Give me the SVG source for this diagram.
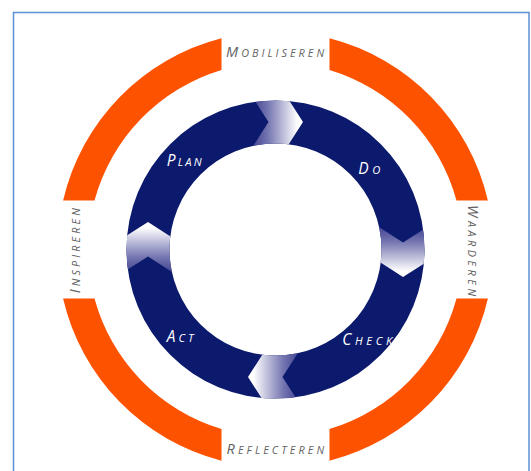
<svg xmlns="http://www.w3.org/2000/svg" width="531" height="471" viewBox="0 0 531 471">
  <style>
    .orange { fill: #fd5200; }
    .ring { fill: #0c1a6d; fill-rule: evenodd; }
    .band { fill: url(#fade); }
    .outer-label { font-family: "Open Sans", Lato, "DejaVu Sans", sans-serif; font-style: italic; font-size: 14.5px; fill: #626262; text-anchor: middle; }
    .inner-label { font-family: "Open Sans", Lato, "DejaVu Sans", sans-serif; font-style: italic; font-size: 15.5px; fill: #ffffff; }
    .sc-o { font-size: 10.8px; }
    .sc-i { font-size: 11.2px; }
  </style>
  <defs>
    <linearGradient id="fade" gradientUnits="userSpaceOnUse" x1="-21" y1="0" x2="22" y2="0">
      <stop offset="0" stop-color="#4a4b95"/>
      <stop offset="0.3" stop-color="#7374b0"/>
      <stop offset="1" stop-color="#ffffff"/>
    </linearGradient>
    <clipPath id="ringclip">
      <path clip-rule="evenodd" d="M149,0 A149,149 0 1,0 -149,0 A149,149 0 1,0 149,0 Z M106,0 A106,106 0 1,0 -106,0 A106,106 0 1,0 106,0 Z"/>
    </clipPath>
  </defs>

  <rect x="13.5" y="12.5" width="515.5" height="470" fill="none" stroke="#5d8fd6" stroke-width="1.5"/>

  <g id="outer-ring">
    <path class="orange" d="M221.5,38.3 A218,218 0 0,0 63.1,200.5 L94.5,200.5 A187.5,187.5 0 0,1 221.5,69.9 Z"/>
    <path class="orange" d="M329.5,38.3 A218,218 0 0,1 487.9,200.5 L456.5,200.5 A187.5,187.5 0 0,0 329.5,69.9 Z"/>
    <path class="orange" d="M487.9,298.5 A218,218 0 0,1 329.5,460.7 L329.5,429.1 A187.5,187.5 0 0,0 456.5,298.5 Z"/>
    <path class="orange" d="M221.5,460.7 A218,218 0 0,1 63.1,298.5 L94.5,298.5 A187.5,187.5 0 0,0 221.5,429.1 Z"/>
  </g>

  <g id="mobiliseren"><text class="outer-label" x="275" y="57.3" textLength="98" lengthAdjust="spacing">M<tspan class="sc-o">OBILISEREN</tspan></text></g>
  <g id="waarderen"><text class="outer-label" transform="translate(467.5 250.5) rotate(90)" x="0" y="0" textLength="91" lengthAdjust="spacing">W<tspan class="sc-o">AARDEREN</tspan></text></g>
  <g id="reflecteren"><text class="outer-label" x="275.3" y="454.3" textLength="97.5" lengthAdjust="spacing">R<tspan class="sc-o">EFLECTEREN</tspan></text></g>
  <g id="inspireren"><text class="outer-label" transform="translate(79.8 250.7) rotate(-90)" x="0" y="0" textLength="85" lengthAdjust="spacing">I<tspan class="sc-o">NSPIREREN</tspan></text></g>

  <g id="cycle" transform="translate(275.5 249.5)">
    <path class="ring" d="M149,0 A149,149 0 1,0 -149,0 A149,149 0 1,0 149,0 Z M106,0 A106,106 0 1,0 -106,0 A106,106 0 1,0 106,0 Z"/>
    <g id="connectors" clip-path="url(#ringclip)">
      <path class="band" d="M-25.9,-157 L-7,-127.5 L-25.9,-98 L8.6,-98 L27.5,-127.5 L8.6,-157 Z"/>
      <path class="band" transform="rotate(90)" d="M-25.9,-157 L-7,-127.5 L-25.9,-98 L8.6,-98 L27.5,-127.5 L8.6,-157 Z"/>
      <path class="band" transform="rotate(180)" d="M-25.9,-157 L-7,-127.5 L-25.9,-98 L8.6,-98 L27.5,-127.5 L8.6,-157 Z"/>
      <path class="band" transform="rotate(270)" d="M-25.9,-157 L-7,-127.5 L-25.9,-98 L8.6,-98 L27.5,-127.5 L8.6,-157 Z"/>
    </g>
  </g>

  <g id="plan"><text class="inner-label" x="166.7" y="166" textLength="35" lengthAdjust="spacing">P<tspan class="sc-i">LAN</tspan></text></g>
  <g id="do"><text class="inner-label" x="358.3" y="174.3" textLength="22" lengthAdjust="spacing">D<tspan class="sc-i">O</tspan></text></g>
  <g id="check"><text class="inner-label" x="342.3" y="345" textLength="50" lengthAdjust="spacing">C<tspan class="sc-i">HECK</tspan></text></g>
  <g id="act"><text class="inner-label" x="166.7" y="341.7" textLength="27" lengthAdjust="spacing">A<tspan class="sc-i">CT</tspan></text></g>
</svg>
